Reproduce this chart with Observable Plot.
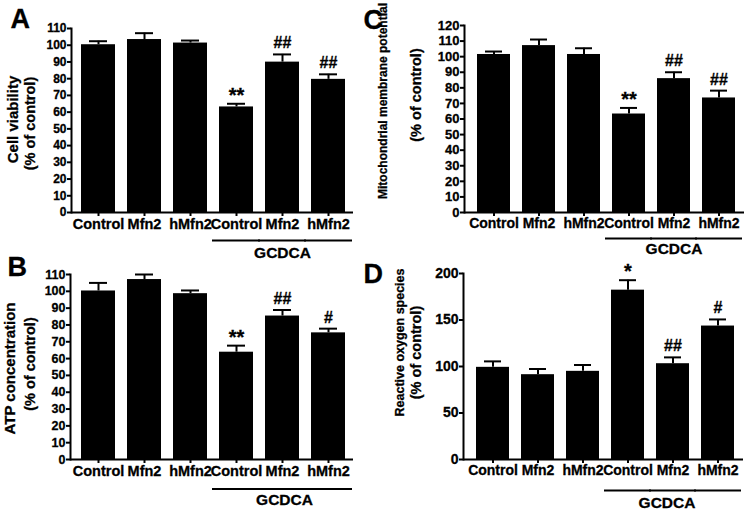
<!DOCTYPE html>
<html><head><meta charset="utf-8">
<script src="https://cdn.jsdelivr.net/npm/d3@7"></script>
<script src="https://cdn.jsdelivr.net/npm/@observablehq/plot@0.6"></script>
<style>
body{margin:0;background:#fff;}
#fig{position:relative;width:754px;height:514px;overflow:hidden;background:#fff;}
#fig > .panel{position:absolute;width:377px;height:257px;}
#fig svg text{stroke:#000;stroke-width:0.3px;}
</style></head><body><div id="fig"></div>
<script>
// Categories
const groups = ["Control","Mfn2","hMfn2","Control","Mfn2","hMfn2"];
const treatment = "GCDCA";
const treatedIdx = [3,4,5];

// A: Cell viability (% of control)
const viability    = [100.3,103.4,101.3,63.1,89.9,79.6];
const viabilitySem = [2.1,3.8,1.5,1.9,4.6,3.0];
const viabilitySig = ["","","","**","##","##"];
const viabilityTicks = [0,10,20,30,40,50,60,70,80,90,100,110];

// B: ATP concentration (% of control)
const atp    = [100.2,107.0,98.6,63.8,85.3,75.3];
const atpSem = [4.8,3.0,1.9,3.9,3.6,2.5];
const atpSig = ["","","","**","##","#"];
const atpTicks = [0,10,20,30,40,50,60,70,80,90,100,110];

// C: Mitochondrial membrane potential (% of control)
const mmp    = [101.4,107.1,101.4,63.2,85.9,73.5];
const mmpSem = [1.9,3.9,4.0,3.9,4.1,4.7];
const mmpSig = ["","","","**","##","##"];
const mmpTicks = [0,10,20,30,40,50,60,70,80,90,100,110,120];

// D: Reactive oxygen species (% of control)
const ros    = [99.1,91.2,94.8,182.1,103.0,143.5];
const rosSem = [6.4,6.1,6.8,10.7,6.8,7.1];
const rosSig = ["","","","*","##","#"];
const rosTicks = [0,50,100,150,200];

const FONT = '"Liberation Sans", Arial, Helvetica, sans-serif';

function panel(c) {
  const idx = d3.range(c.values.length);
  const top = idx.map(i => c.values[i] + c.sem[i]);
  return Plot.plot({
    width: 377, height: 257,
    marginLeft: c.m[0], marginRight: c.m[1], marginTop: c.m[2], marginBottom: c.m[3],
    style: {background: "transparent", overflow: "visible", fontFamily: FONT, fontWeight: "bold", color: "#000", fontSize: "12px"},
    x: {type: "band", domain: idx, paddingInner: 0.26, paddingOuter: 0.18, align: 0.58},
    y: {domain: [0, c.yMax]},
    marks: [
      Plot.barY(idx, {x: i => i, y: i => c.values[i], fill: "#000"}),
      Plot.ruleX(idx, {x: i => i, y1: i => c.values[i], y2: i => top[i], stroke: "#000", strokeWidth: 2}),
      Plot.tickY(idx, {x: i => i, y: i => top[i], stroke: "#000", strokeWidth: 2, insetLeft: 8, insetRight: 8}),
      Plot.text(idx.filter(i => c.sig[i].includes("*")), {x: i => i, y: i => top[i], text: i => c.sig[i], fontSize: 20, lineAnchor: "bottom", dy: -2}),
      Plot.text(idx.filter(i => c.sig[i].includes("#")), {x: i => i, y: i => top[i], text: i => c.sig[i], fontSize: 16, lineAnchor: "bottom", dy: -6}),
      Plot.axisY({ticks: c.yTicks, tickSize: 4, tickPadding: 1, fontSize: c.yFont, strokeWidth: 2, label: null}),
      Plot.axisX({tickSize: 4, tickPadding: 2, fontSize: c.xFont, strokeWidth: 2, tickFormat: i => groups[i], label: null}),
      Plot.ruleY([0], {stroke: "#000", strokeWidth: 2}),
      Plot.frame({anchor: "left", stroke: "#000", strokeWidth: 2}),
      Plot.tickY(treatedIdx, {x: i => i, y: () => 0, dy: c.gc[0], insetLeft: -7, insetRight: -7, stroke: "#000", strokeWidth: 2}),
      Plot.text([treatment], {x: () => treatedIdx[1], y: () => 0, text: d => d, dy: c.gc[1], dx: c.gc[2], fontSize: 15.5, lineAnchor: "middle"}),
      Plot.text([c.label1], {frameAnchor: "left", text: d => d, rotate: -90, textAnchor: "middle", lineAnchor: "middle", dx: c.lab[0], dy: c.lab[1], fontSize: c.lab[2]}),
      Plot.text([c.label2], {frameAnchor: "left", text: d => d, rotate: -90, textAnchor: "middle", lineAnchor: "middle", dx: c.lab[3], dy: c.lab[4], fontSize: c.lab[5]}),
      Plot.text([c.letter], {frameAnchor: "top-left", text: d => d, textAnchor: "start", lineAnchor: "bottom", fontSize: 27, dx: c.lp[0], dy: c.lp[1]})
    ]
  });
}

const panels = [
  {pos: [0, 0], letter: "A", values: viability, sem: viabilitySem, sig: viabilitySig, yMax: 110, yTicks: viabilityTicks, yFont: 12, xFont: 14.5,
   label1: "Cell viability", label2: "(% of control)", m: [71, 24, 28, 45],
   lab: [-58.5, -1, 15, -41.5, 3, 14.5], lp: [-61, -1], gc: [28, 41, 0]},
  {pos: [377, 0], letter: "C", values: mmp, sem: mmpSem, sig: mmpSig, yMax: 120, yTicks: mmpTicks, yFont: 13, xFont: 14,
   label1: "Mitochondrial membrane potential", label2: "(% of control)", m: [87, 10, 25, 45],
   lab: [-81, -18, 12, -48, -24, 14.5], lp: [-101, 3], gc: [26, 37, 0]},
  {pos: [0, 257], letter: "B", values: atp, sem: atpSem, sig: atpSig, yMax: 110, yTicks: atpTicks, yFont: 12.5, xFont: 14.5,
   label1: "ATP concentration", label2: "(% of control)", m: [70, 24, 17, 55],
   lab: [-60, 1.5, 15, -40.5, -3, 14.5], lp: [-63, 1], gc: [29.4, 41, 2]},
  {pos: [377, 257], letter: "D", values: ros, sem: rosSem, sig: rosSig, yMax: 200, yTicks: rosTicks, yFont: 14, xFont: 14,
   label1: "Reactive oxygen species", label2: "(% of control)", m: [86, 11, 16, 55],
   lab: [-63.5, -24, 12.5, -47, -14, 14.5], lp: [-100, 9], gc: [31, 44, -6]}
];

const fig = document.getElementById("fig");
for (const c of panels) {
  const div = document.createElement("div");
  div.className = "panel";
  div.style.left = c.pos[0] + "px";
  div.style.top = c.pos[1] + "px";
  div.appendChild(panel(c));
  fig.appendChild(div);
}
</script>
</body></html>
